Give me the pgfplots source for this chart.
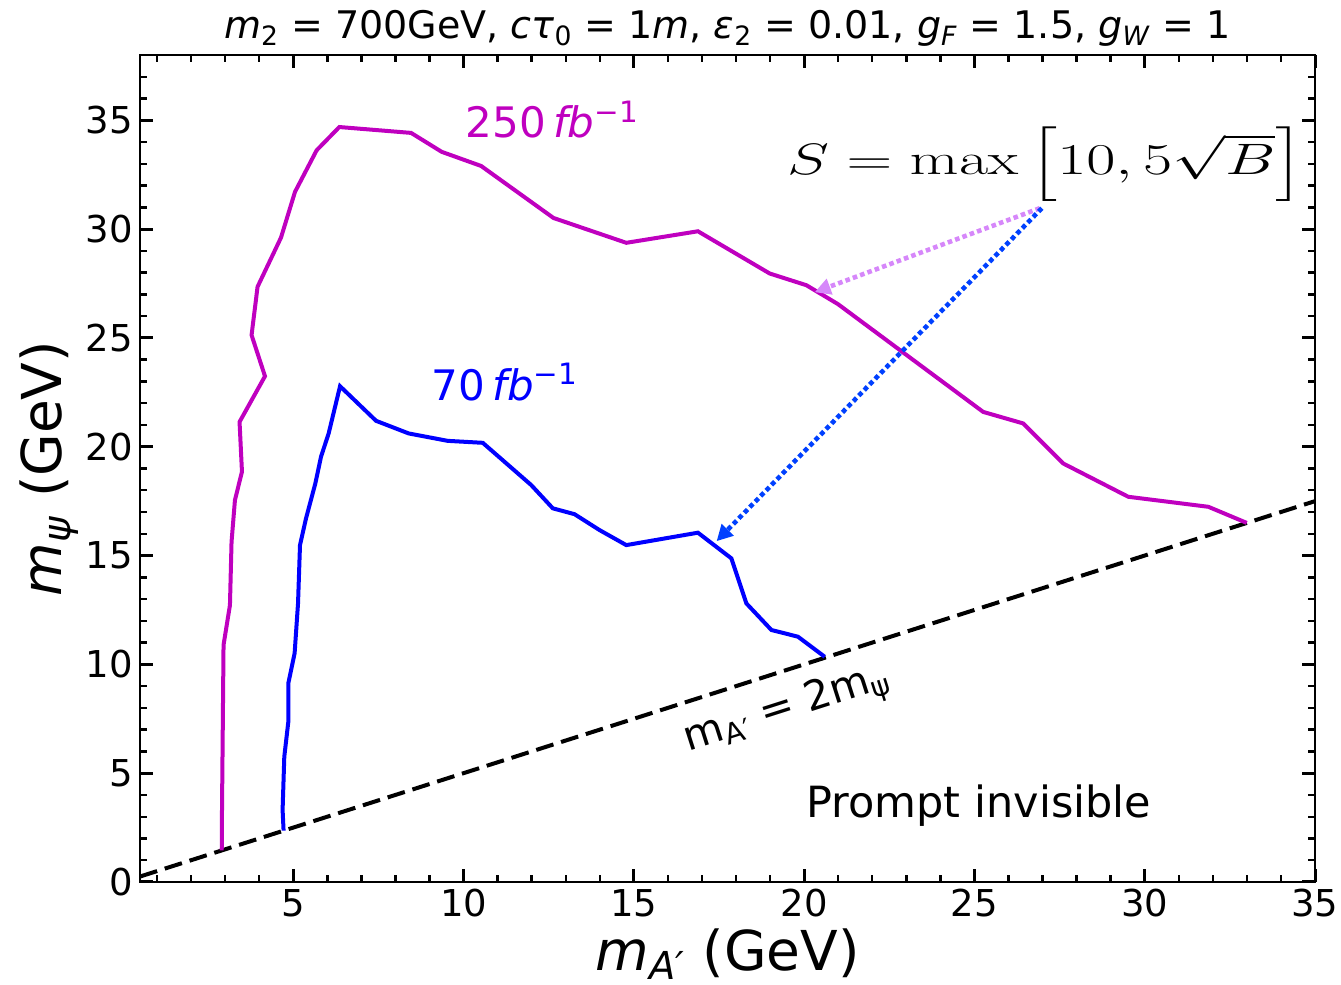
\RequirePackage{fix-cm}
\documentclass[border=0pt]{standalone}
\usepackage[no-math]{fontspec}
\setmainfont{DejaVu Sans}
\usepackage{amsmath}
\usepackage{graphicx}
\usepackage{pgfplots}
\pgfplotsset{compat=1.18}
\usetikzlibrary{arrows.meta}

\definecolor{mag}{RGB}{191,0,191}
\definecolor{arrv}{RGB}{214,135,250}
\definecolor{arrb}{RGB}{0,64,255}

% sensitivity contours, m_A' (GeV) vs m_psi (GeV)
\pgfplotstableread{
x y
2.90 1.45
2.906 3.00
2.953 10.89
3.141 12.72
3.188 15.63
3.288 17.55
3.494 18.85
3.423 21.14
4.170 23.24
3.776 25.13
3.952 27.35
4.640 29.61
5.051 31.71
5.686 33.62
6.353 34.69
8.460 34.42
9.359 33.55
10.517 32.90
12.642 30.51
14.778 29.37
16.882 29.90
18.989 27.96
20.068 27.42
20.996 26.55
25.257 21.60
26.433 21.07
27.608 19.23
29.518 17.70
31.869 17.24
32.997 16.50
}\lumihigh

\pgfplotstableread{
x y
4.716 2.36
4.687 3.31
4.737 5.76
4.855 7.36
4.855 9.13
5.040 10.51
5.140 12.80
5.198 15.48
5.375 16.71
5.648 18.31
5.815 19.54
6.039 20.61
6.374 22.78
7.432 21.19
8.390 20.61
9.536 20.27
10.564 20.18
11.986 18.24
12.621 17.17
13.259 16.90
13.993 16.17
14.778 15.48
16.882 16.05
17.864 14.87
18.305 12.80
19.039 11.58
19.821 11.27
20.605 10.35
}\lumilow

\begin{document}
\begin{tikzpicture}
\begin{axis}[
  at={(0,0)}, anchor=south west,
  scale only axis, width=587.5pt, height=413.5pt,
  xmin=0.5, xmax=35, ymin=0, ymax=38,
  xtick={5,10,...,35}, ytick={0,5,...,35},
  minor xtick={1,2,...,35}, minor ytick={0,1,...,38},
  tick align=inside,
  major tick length=6.5pt, minor tick length=3.5pt,
  every major tick/.append style={line width=1.5pt, black},
  every minor tick/.append style={line width=1.2pt, black},
  axis line style={line width=1pt},
  /pgf/number format/assume math mode=true,
  ticklabel style={font=\fontsize{18.5}{20}\selectfont},
  xlabel={\textit{m}$_{\text{\textit{A′}}}$ (GeV)},
  ylabel={\textit{m}$_{\text{\textit{ψ}}}$ (GeV)},
  label style={font=\fontsize{27.5}{28}\selectfont},
  xlabel style={at={([yshift=-44.3pt]axis description cs:0.5,0)}, anchor=base},
  ylabel style={at={([xshift=-39pt]axis description cs:0,0.5)}, anchor=base},
  every axis title shift=0pt,
  title={\textit{m}$_{\text{2}}$ = 700GeV, \textit{cτ}$_{\text{0}}$ = 1\textit{m}, \textit{ε}$_{\text{2}}$ = 0.01, \textit{g}$_{\text{\textit{F}}}$ = 1.5, \textit{g}$_{\text{\textit{W}}}$ = 1},
  title style={at={([yshift=8pt]axis description cs:0.5,1)}, anchor=base, font=\fontsize{19}{20}\selectfont},
  clip=false,
]
% kinematic boundary m_A' = 2 m_psi
\addplot[black, line width=2pt, dash pattern=on 9pt off 4pt] coordinates {(0.5,0.25) (35,17.5)};

\addplot[mag, line width=2pt] table[x=x,y=y] {\lumihigh};
\addplot[blue, line width=2pt] table[x=x,y=y] {\lumilow};

\node[anchor=base west, inner sep=0pt, text=mag, font=\fontsize{21}{21}\selectfont] at (axis cs:10.06,34.2) {250\,\textit{fb}$^{\text{−1}}$};
\node[anchor=base west, inner sep=0pt, text=blue, font=\fontsize{21}{21}\selectfont] at (axis cs:9.06,22.14) {70\,\textit{fb}$^{\text{−1}}$};
\node[font=\fontsize{21.5}{22}\selectfont] at (axis cs:25.13,3.5) {Prompt invisible};
\node[rotate=17.74, font=\fontsize{20.5}{21}\selectfont] at (axis cs:19.5,7.9) {m$_{\text{A′}}$ = 2m$_{\text{ψ}}$};
\node[anchor=base west, inner sep=0pt] at (axis cs:19.49,32.5) {\scalebox{1.44}[1]{\fontsize{22}{22}\selectfont$S=\max{\left[10,5\sqrt{B}\right]}$}};

\draw[arrv, line width=2.3pt, dash pattern=on 2.3pt off 1.6pt, -{Triangle[length=8pt,width=8pt]}] (axis cs:26.92,30.96) -- (axis cs:20.31,27.10);
\draw[arrb, line width=2.3pt, dash pattern=on 2.3pt off 1.6pt, -{Triangle[length=8pt,width=8pt]}] (axis cs:26.98,30.96) -- (axis cs:17.43,15.66);
\end{axis}
\pgfresetboundingbox
\path (-70pt,-51.5pt) rectangle (600.5pt,441pt);
\end{tikzpicture}
\end{document}
